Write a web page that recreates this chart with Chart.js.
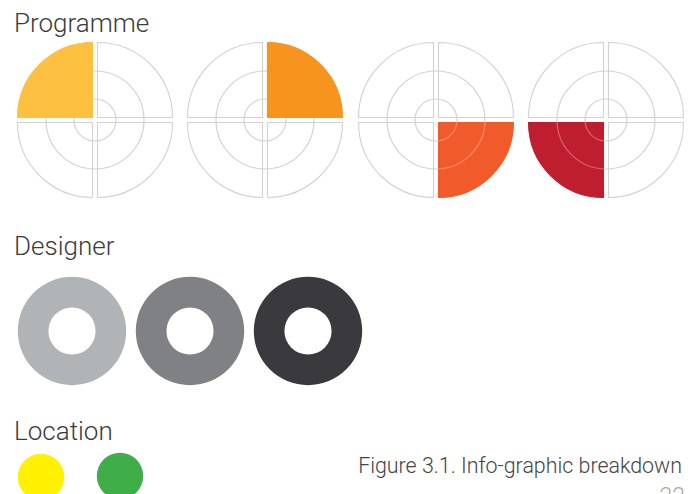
<!DOCTYPE html>
<html>
<head>
<meta charset="utf-8">
<script src="https://cdn.jsdelivr.net/npm/chart.js@4.4.1/dist/chart.umd.min.js"></script>
<style>
  html, body { margin: 0; padding: 0; background: #fff; }
  body { width: 690px; height: 494px; position: relative; overflow: hidden; font-family: "Roboto", "Liberation Sans", sans-serif; font-weight: 300; color: #3b3b3d; }
  canvas { position: absolute; }
  .title { position: absolute; left: 14px; font-size: 26px; line-height: 26px; white-space: nowrap; }
  .caption { position: absolute; right: 8px; top: 455px; font-size: 21.4px; line-height: 21px; color: #444446; white-space: nowrap; }
  .page { position: absolute; right: 5px; top: 486px; font-size: 23px; line-height: 22px; color: #a8a8a8; }
</style>
</head>
<body>
<div class="title" style="top:10px">Programme</div>
<div class="title" style="top:233px">Designer</div>
<div class="title" style="top:418px">Location</div>
<div class="caption">Figure 3.1. Info-graphic breakdown</div>
<div class="page">22</div>

<script>
/* Data */
// four equal quarters in each programme target, one of them highlighted
const programmeQuarters = [1, 1, 1, 1];
// highlighted quarter per target (0 = top right, then clockwise)
const programmeHighlight = [3, 0, 1, 2];
const programmeColors = ["#fdc041", "#f7941e", "#f15a2a", "#be1e2d"];
// targets where the guide circles still show through the fill
const programmeShowGuides = [false, false, true, true];

// designer rings
const designerValues = [1, 1, 1];
const designerColors = ["#b1b4b6", "#808184", "#3a3a3e"];

// location dots
const locationValues = [1, 1];
const locationColors = ["#fff100", "#3fae49"];

const lineGrey = "#d2d2d2";
const clear = "rgba(255,255,255,0)";

// common options, no legend, no tooltips, no animation
const baseOptions = (extra) => Object.assign({
  responsive: false,
  animation: false,
  devicePixelRatio: 1,
  events: [],
  layout: { padding: 0 },
  plugins: { legend: { display: false }, tooltip: { enabled: false } }
}, extra);

const makeCanvas = (cx, cy, size) => {
  const c = document.createElement("canvas");
  c.width = size;
  c.height = size;
  c.style.left = (cx - size / 2) + "px";
  c.style.top = (cy - size / 2) + "px";
  document.body.appendChild(c);
  return c;
};

// the two thin guide circles of a target, colors per quarter
const drawGuides = (cx, cy, colors) => {
  const canvas = makeCanvas(cx, cy, 170);
  return new Chart(canvas, {
    type: "doughnut",
    data: {
      datasets: [
        { data: programmeQuarters, backgroundColor: colors, borderWidth: 0, weight: 1.2 },
        { data: programmeQuarters, backgroundColor: programmeQuarters.map(() => clear), borderWidth: 0, weight: 26.8 },
        { data: programmeQuarters, backgroundColor: colors, borderWidth: 0, weight: 1.2 }
      ]
    },
    options: baseOptions({ radius: 49.6, cutout: "41.1%" })
  });
};

const drawTarget = (cx, cy, idx) => {
  const hi = programmeHighlight[idx];
  drawGuides(cx, cy, programmeQuarters.map(() => lineGrey));
  const canvas = makeCanvas(cx, cy, 170);
  const fills = programmeQuarters.map((q, i) => i === hi ? programmeColors[idx] : clear);
  const borders = programmeQuarters.map((q, i) => i === hi ? programmeColors[idx] : lineGrey);
  const chart = new Chart(canvas, {
    type: "pie",
    data: {
      labels: ["Q1", "Q2", "Q3", "Q4"],
      datasets: [{
        data: programmeQuarters,
        backgroundColor: fills,
        borderColor: borders,
        borderWidth: 1.1,
        borderJoinStyle: "miter",
        offset: 14
      }]
    },
    options: baseOptions({ radius: 75 })
  });
  if (programmeShowGuides[idx]) {
    // faint guide lines over the coloured quarter
    drawGuides(cx, cy, programmeQuarters.map((q, i) => i === hi ? "rgba(255,235,235,0.35)" : clear));
  }
  return chart;
};

const drawDot = (cx, cy, size, color, radius, cutout) => {
  const canvas = makeCanvas(cx, cy, size);
  return new Chart(canvas, {
    type: "doughnut",
    data: {
      datasets: [{ data: [1], backgroundColor: [color], borderWidth: 0 }]
    },
    options: baseOptions({ radius: radius, cutout: cutout })
  });
};

function mainEvent() {
  const targetX = [94.5, 265, 435.5, 606];
  targetX.forEach((x, i) => drawTarget(x, 119.5, i));

  const ringX = [72, 189.5, 307.5];
  designerValues.forEach((v, i) => drawDot(ringX[i], 331, 120, designerColors[i], 54.2, "43.5%"));

  const dotX = [40.5, 120];
  const dotY = [476.5, 475.8];
  locationValues.forEach((v, i) => drawDot(dotX[i], dotY[i], 60, locationColors[i], 23.2, 0));
}

document.addEventListener("DOMContentLoaded", () => mainEvent());
</script>
</body>
</html>
